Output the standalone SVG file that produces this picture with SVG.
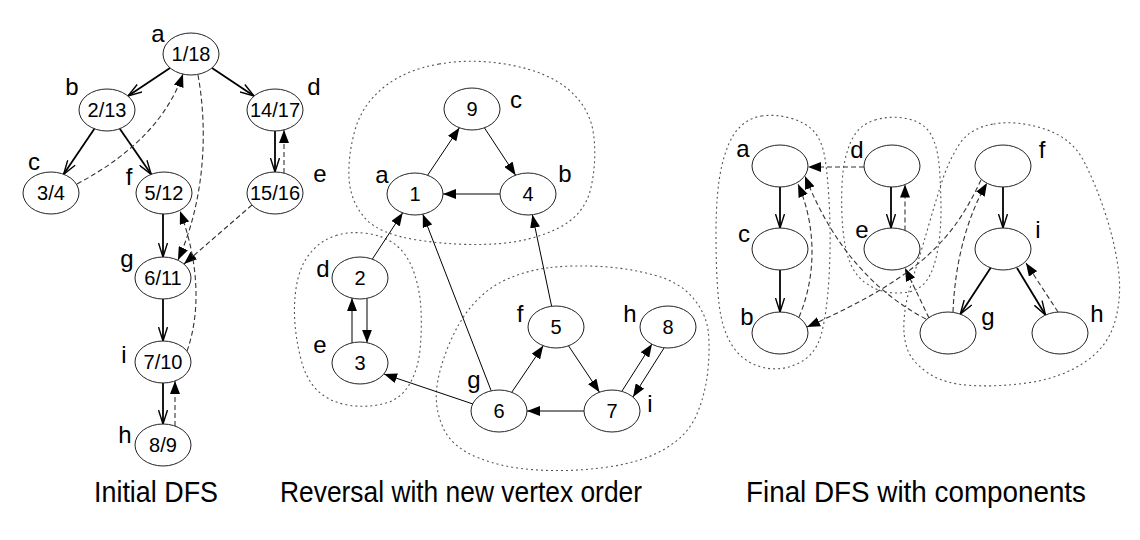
<svg xmlns="http://www.w3.org/2000/svg" width="1140" height="540" viewBox="0 0 1140 540">
<style>
text{font-family:"Liberation Sans",Arial,sans-serif;fill:#000}
.lbl{font-size:24px;text-anchor:middle}
.num{font-size:20px;text-anchor:middle}
.ttl{font-size:29px;text-anchor:middle}
ellipse{fill:#fff;stroke:#222;stroke-width:1}
.blob{fill:none;stroke:#555;stroke-width:1.1;stroke-dasharray:2,3}
.tree{fill:none;stroke:#000;stroke-width:1.8;marker-end:url(#open)}
.back{fill:none;stroke:#333;stroke-width:1.1;stroke-dasharray:5,3;marker-end:url(#fill)}
.thin{fill:none;stroke:#000;stroke-width:1;marker-end:url(#fill)}
</style>
<defs>
<marker id="open" viewBox="0 0 15 10" refX="14.5" refY="5" markerWidth="15" markerHeight="10" orient="auto" markerUnits="userSpaceOnUse">
<path d="M0.5,0.5 L14.5,5 L0.5,9.5" fill="none" stroke="#000" stroke-width="1.4"/>
</marker>
<marker id="fill" viewBox="0 0 13 10" refX="13" refY="5" markerWidth="13" markerHeight="10" orient="auto" markerUnits="userSpaceOnUse">
<path d="M0,0 L13,5 L0,10 z" fill="#000"/>
</marker>
</defs>

<g id="blobs">
<path class="blob" d="M439,64 Q473,58 510.5,65 Q548,72 569,90 Q590,108 593.5,134 Q597,160 591,187.5 Q585,215 557.5,228.5 Q530,242 493.5,244 Q457,246 417.5,240 Q378,234 364,217 Q350,200 349,177.5 Q348,155 355,130 Q362,105 383.5,87.5 Q405,70 439,64 Z"/>
<path class="blob" d="M336,235.5 Q350,231 367.5,233.5 Q385,236 396.5,245.5 Q408,255 414,272.5 Q420,290 421,310 Q422,330 420,350 Q418,370 409,385 Q400,400 382.5,404 Q365,408 347.5,405 Q330,402 318,391 Q306,380 300.5,357.5 Q295,335 294.5,315 Q294,295 298,278.5 Q302,262 312,251 Q322,240 336,235.5 Z"/>
<path class="blob" d="M550.5,267.5 Q573,265 600.5,266.5 Q628,268 654,275 Q680,282 693.5,298.5 Q707,315 708.5,333.5 Q710,352 707.5,373.5 Q705,395 696.5,415 Q688,435 665.5,448.5 Q643,462 608,467 Q573,472 538,470 Q503,468 477.5,457.5 Q452,447 443.5,428.5 Q435,410 436.5,391 Q438,372 448,347 Q458,322 472.5,305 Q487,288 507.5,279 Q528,270 550.5,267.5 Z"/>
<path class="blob" d="M761.5,116 Q775,114 790,118 Q805,122 813.5,131 Q822,140 825,158.5 Q828,177 829.5,210 Q831,243 829,277.5 Q827,312 821.5,333.5 Q816,355 798,363.5 Q780,372 761.5,367 Q743,362 732.5,346 Q722,330 719,303.5 Q716,277 716,233.5 Q716,190 722,165 Q728,140 738,129 Q748,118 761.5,116 Z"/>
<path class="blob" d="M875,120 Q892,115 908.5,119 Q925,123 931.5,135.5 Q938,148 939.5,169 Q941,190 941,211 Q941,232 937.5,251 Q934,270 927,280 Q920,290 908.5,292 Q897,294 886,292 Q875,290 865,282.5 Q855,275 850,262.5 Q845,250 843,230 Q841,210 842,185 Q843,160 850.5,142.5 Q858,125 875,120 Z"/>
<path class="blob" d="M993.5,124 Q1017,120 1044.5,129 Q1072,138 1084,161.5 Q1096,185 1105.5,214 Q1115,243 1118.5,270.5 Q1122,298 1114.5,323 Q1107,348 1083.5,363 Q1060,378 1030,382.5 Q1000,387 972,385.5 Q944,384 928,373 Q912,362 907.5,349.5 Q903,337 904,321 Q905,305 909,291.5 Q913,278 918,261.5 Q923,245 929.5,222.5 Q936,200 942.5,180 Q949,160 959.5,144 Q970,128 993.5,124 Z"/>
</g>

<g id="connectors">
<!-- left: initial DFS -->
<path class="tree" d="M170,68 L128,96"/>
<path class="tree" d="M212,68 L254,96"/>
<path class="tree" d="M94.4,128.7 L63.6,174.3"/>
<path class="tree" d="M119.8,128.7 L151.2,174.3"/>
<path class="tree" d="M275,131 L275,172"/>
<path class="tree" d="M163,214 L163,257"/>
<path class="tree" d="M163,299 L163,341"/>
<path class="tree" d="M163,383 L163,424"/>
<path class="back" d="M284,173 L284,130"/>
<path class="back" d="M175,426 L175,381"/>
<path class="back" d="M77,184 Q160,140 183,74"/>
<path class="back" d="M198,75 C208,130 205,200 178,260"/>
<path class="back" d="M252,205 L184,264"/>
<path class="back" d="M187,351 C200,315 200,265 180,211"/>
<!-- middle: reversal -->
<path class="thin" d="M427.6,175.2 L459.4,127.8"/>
<path class="thin" d="M484.4,127.8 L515.6,175.2"/>
<path class="thin" d="M500,194 L443,194"/>
<path class="thin" d="M372.3,259.2 L402.7,212.8"/>
<path class="thin" d="M491.2,390.8 L422.8,214.2"/>
<path class="thin" d="M551.6,306.2 L532.4,214.8"/>
<path class="thin" d="M367,298.3 L367,342.7"/>
<path class="thin" d="M352,342.9 L352,298.1"/>
<path class="thin" d="M473,404 L384,374"/>
<path class="thin" d="M511.8,392.2 L543.2,345.8"/>
<path class="thin" d="M568.5,345.8 L599.5,392.2"/>
<path class="thin" d="M584,411 L527,411"/>
<path class="thin" d="M622,391 L652,344"/>
<path class="thin" d="M664,348 L633,397"/>
<!-- right: final DFS -->
<path class="tree" d="M780,187 L780,228"/>
<path class="tree" d="M780,270 L780,312"/>
<path class="tree" d="M891,187 L891,228"/>
<path class="tree" d="M1003,187 L1003,228"/>
<path class="tree" d="M990.7,267.8 L960.3,314.2"/>
<path class="tree" d="M1017,268 L1045.5,315"/>
<path class="back" d="M864,167 L808,167"/>
<path class="back" d="M905,230.4 L905,184.6"/>
<path class="back" d="M1058,312 L1026,263"/>
<path class="back" d="M929,318 L905,268"/>
<path class="back" d="M953,312 C955,260 968,215 987,183"/>
<path class="back" d="M981,180 C955,235 925,275 807,327"/>
<path class="back" d="M799,317 C815,280 818,230 798,184"/>
<path class="back" d="M926,319 C870,290 830,240 805,176"/>
</g>

<g id="L-a"><ellipse cx="191" cy="54" rx="28" ry="21"/><text class="num" x="191" y="61">1/18</text><text class="lbl" x="158" y="42">a</text></g>
<g id="L-b"><ellipse cx="107" cy="110" rx="28" ry="21"/><text class="num" x="107" y="117">2/13</text><text class="lbl" x="72" y="95">b</text></g>
<g id="L-d"><ellipse cx="275" cy="110" rx="28" ry="21"/><text class="num" x="275" y="117">14/17</text><text class="lbl" x="314" y="95">d</text></g>
<g id="L-c"><ellipse cx="51" cy="193" rx="28" ry="21"/><text class="num" x="51" y="200">3/4</text><text class="lbl" x="34" y="170">c</text></g>
<g id="L-f"><ellipse cx="164" cy="193" rx="28" ry="21"/><text class="num" x="164" y="200">5/12</text><text class="lbl" x="129" y="185">f</text></g>
<g id="L-e"><ellipse cx="275" cy="193" rx="28" ry="21"/><text class="num" x="275" y="200">15/16</text><text class="lbl" x="320" y="182">e</text></g>
<g id="L-g"><ellipse cx="163" cy="278" rx="28" ry="21"/><text class="num" x="163" y="285">6/11</text><text class="lbl" x="127" y="267">g</text></g>
<g id="L-i"><ellipse cx="163" cy="362" rx="28" ry="21"/><text class="num" x="163" y="369">7/10</text><text class="lbl" x="124" y="363">i</text></g>
<g id="L-h"><ellipse cx="163" cy="445" rx="28" ry="21"/><text class="num" x="163" y="452">8/9</text><text class="lbl" x="125" y="443">h</text></g>

<g id="M-c"><ellipse cx="472" cy="109" rx="28" ry="21"/><text class="num" x="472" y="116">9</text><text class="lbl" x="516" y="108">c</text></g>
<g id="M-a"><ellipse cx="415" cy="194" rx="28" ry="21"/><text class="num" x="415" y="201">1</text><text class="lbl" x="382" y="183">a</text></g>
<g id="M-b"><ellipse cx="528" cy="194" rx="28" ry="21"/><text class="num" x="528" y="201">4</text><text class="lbl" x="565" y="182">b</text></g>
<g id="M-d"><ellipse cx="360" cy="278" rx="28" ry="21"/><text class="num" x="360" y="285">2</text><text class="lbl" x="323" y="277">d</text></g>
<g id="M-e"><ellipse cx="360" cy="363" rx="28" ry="21"/><text class="num" x="360" y="370">3</text><text class="lbl" x="320" y="353">e</text></g>
<g id="M-f"><ellipse cx="556" cy="327" rx="28" ry="21"/><text class="num" x="556" y="334">5</text><text class="lbl" x="520" y="322">f</text></g>
<g id="M-h"><ellipse cx="668" cy="327" rx="28" ry="21"/><text class="num" x="668" y="334">8</text><text class="lbl" x="630" y="322">h</text></g>
<g id="M-g"><ellipse cx="499" cy="411" rx="28" ry="21"/><text class="num" x="499" y="418">6</text><text class="lbl" x="474" y="388">g</text></g>
<g id="M-i"><ellipse cx="612" cy="411" rx="28" ry="21"/><text class="num" x="612" y="418">7</text><text class="lbl" x="650" y="412">i</text></g>

<g id="R-a"><ellipse cx="780" cy="166" rx="28" ry="21"/><text class="lbl" x="743" y="157">a</text></g>
<g id="R-c"><ellipse cx="780" cy="249" rx="28" ry="21"/><text class="lbl" x="744" y="242">c</text></g>
<g id="R-b"><ellipse cx="780" cy="333" rx="28" ry="21"/><text class="lbl" x="747" y="325">b</text></g>
<g id="R-d"><ellipse cx="892" cy="166" rx="28" ry="21"/><text class="lbl" x="857" y="158">d</text></g>
<g id="R-e"><ellipse cx="892" cy="249" rx="28" ry="21"/><text class="lbl" x="862" y="238">e</text></g>
<g id="R-f"><ellipse cx="1003" cy="166" rx="28" ry="21"/><text class="lbl" x="1042" y="158">f</text></g>
<g id="R-i"><ellipse cx="1003" cy="249" rx="28" ry="21"/><text class="lbl" x="1038" y="238">i</text></g>
<g id="R-g"><ellipse cx="948" cy="333" rx="28" ry="21"/><text class="lbl" x="988" y="325">g</text></g>
<g id="R-h"><ellipse cx="1060" cy="333" rx="28" ry="21"/><text class="lbl" x="1097" y="322">h</text></g>

<g id="titles">
<text class="ttl" x="156" y="502" textLength="124" lengthAdjust="spacingAndGlyphs">Initial DFS</text>
<text class="ttl" x="461" y="502" textLength="362" lengthAdjust="spacingAndGlyphs">Reversal with new vertex order</text>
<text class="ttl" x="916" y="502" textLength="340" lengthAdjust="spacingAndGlyphs">Final DFS with components</text>
</g>
</svg>
